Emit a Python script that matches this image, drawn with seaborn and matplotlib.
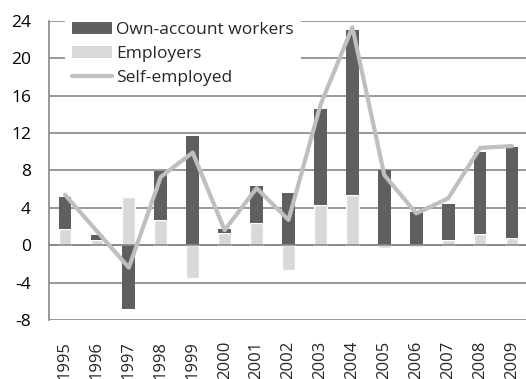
import numpy as np
import pandas as pd
import matplotlib
matplotlib.use("Agg")
import matplotlib.pyplot as plt
import seaborn as sns
from matplotlib.patches import Patch
from matplotlib.lines import Line2D

years = ["1995", "1996", "1997", "1998", "1999", "2000", "2001", "2002",
         "2003", "2004", "2005", "2006", "2007", "2008", "2009"]
employers = [1.7, 0.5, 5.1, 2.7, -3.5, 1.3, 2.4, -2.7, 4.3, 5.4, -0.3, -0.2, 0.6, 1.2, 0.8]
own_account = [3.5, 0.6, -6.8, 5.2, 11.7, 0.4, 3.9, 5.6, 10.3, 17.6, 8.0, 3.6, 3.8, 8.8, 9.7]
self_employed = [5.4, 1.5, -2.4, 7.3, 9.9, 1.6, 6.1, 2.7, 15.0, 23.3, 7.5, 3.4, 5.0, 10.4, 10.6]
y_ticks = [-8, -4, 0, 4, 8, 12, 16, 20, 24]
series_names = ["Own-account workers", "Employers", "Self-employed"]

DARK = "#5f5f5f"
LIGHT = "#d9d9d9"
LINE = "#bfbfbf"
AXIS = "#878787"
FS = 12
FS_LEG = 12.5

sns.set_theme(style="white")
plt.rcParams["font.family"] = ["Open Sans", "DejaVu Sans"]
plt.rcParams["axes.unicode_minus"] = False

df = pd.DataFrame({"year": years, "employers": employers,
                   "own": own_account, "self": self_employed})

fig = plt.figure(figsize=(5.26, 3.79), dpi=100)
W, H = 526, 379
left, right, top, bottom = 49, 528, 20.7, 320
ax = fig.add_axes([left / W, 1 - bottom / H, (right - left) / W, (bottom - top) / H])

bw = 0.4
# employers sit on the zero line
sns.barplot(data=df, x="year", y="employers", color=LIGHT, width=bw,
            saturation=1, ax=ax, zorder=2)
# own-account workers stack on employers when both share a sign
pos = np.arange(len(years))
emp = np.array(employers)
own = np.array(own_account)
base = np.where(np.sign(emp) == np.sign(own), emp, 0.0)
ax.bar(pos, own, bottom=base, width=bw, color=DARK, linewidth=0, zorder=2)
sns.lineplot(x=pos, y=df["self"], color=LINE, linewidth=3.0, ax=ax, zorder=3)

ax.set_xlim(-0.5, len(years) - 0.5)
ax.set_ylim(-8, 24)
ax.set_yticks(y_ticks)
ax.set_yticklabels([str(t) for t in y_ticks], fontsize=FS_LEG, color="#000000")
ax.yaxis.grid(True, color=AXIS, linewidth=1.2)
ax.set_axisbelow(True)
ax.tick_params(axis="y", length=5, width=1.2, color=AXIS, direction="out", pad=8)

for s in ["top", "right"]:
    ax.spines[s].set_visible(False)
ax.spines["left"].set_color(AXIS)
ax.spines["left"].set_linewidth(1.2)
ax.spines["bottom"].set_position(("data", 0))
ax.spines["bottom"].set_color(AXIS)
ax.spines["bottom"].set_linewidth(1.2)
ax.spines["bottom"].set_zorder(2.5)

# category boundary ticks hang from the zero line
ax.set_xticks(pos)
ax.set_xticklabels([])
ax.tick_params(axis="x", which="major", length=0)
ax.set_xticks(pos[:-1] + 0.5, minor=True)
ax.tick_params(axis="x", which="minor", length=7, width=1.2, color=AXIS, direction="out")

# year labels along the bottom of the plot
sec = ax.secondary_xaxis(0)
sec.set_xticks(pos)
sec.set_xticklabels(years, rotation=90, fontsize=FS, va="top", ha="center")
sec.tick_params(length=0, pad=15)
sec.spines["bottom"].set_visible(False)

ax.set_xlabel("")
ax.set_ylabel("")

handles = [Patch(facecolor=DARK, edgecolor="none"),
           Patch(facecolor=LIGHT, edgecolor="none"),
           Line2D([0], [0], color=LINE, linewidth=3.0)]
leg = ax.legend(handles, series_names, loc="upper left", bbox_to_anchor=(0.033, 1.02),
                frameon=True, fontsize=FS_LEG, handlelength=2.3, handleheight=0.7,
                handletextpad=0.25, labelspacing=0.45, borderpad=0.4,
                borderaxespad=0)
leg.get_frame().set_facecolor("white")
leg.get_frame().set_edgecolor("none")
leg.get_frame().set_alpha(1)
leg.get_frame().set_boxstyle("square", pad=0)
leg.set_zorder(5)

fig.savefig("out.png", dpi=100)
